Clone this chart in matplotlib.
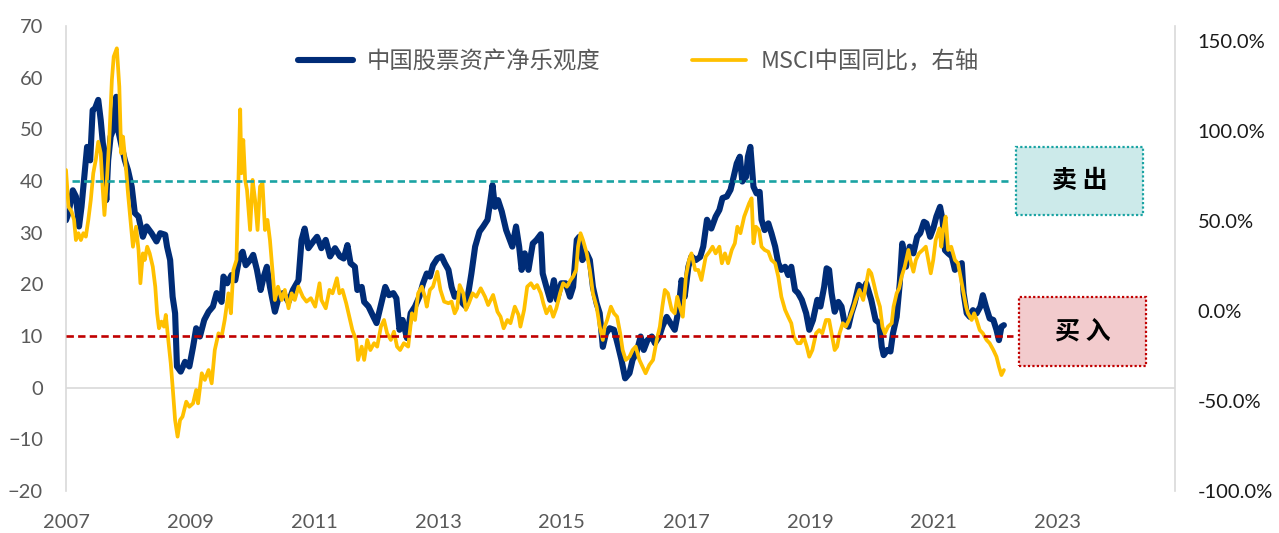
import matplotlib
matplotlib.use('Agg')
import matplotlib.pyplot as plt
from matplotlib.patches import Rectangle
from matplotlib.ticker import FuncFormatter, FixedLocator

# ---------------- data ----------------
nav_years = [2007.00, 2007.04, 2007.11, 2007.16, 2007.21, 2007.25, 2007.29, 2007.34, 2007.39, 2007.43,
             2007.47, 2007.52, 2007.56, 2007.60, 2007.65, 2007.68, 2007.72, 2007.76, 2007.81, 2007.84,
             2007.90, 2007.95, 2008.00, 2008.06, 2008.11, 2008.17, 2008.24, 2008.30, 2008.38, 2008.46,
             2008.52, 2008.60, 2008.63, 2008.68, 2008.72, 2008.76, 2008.79, 2008.85, 2008.92, 2008.99,
             2009.05, 2009.10, 2009.16, 2009.23, 2009.30, 2009.37, 2009.43, 2009.48, 2009.51, 2009.54,
             2009.60, 2009.67, 2009.73, 2009.80, 2009.85, 2009.90, 2009.97, 2010.02, 2010.08, 2010.14,
             2010.19, 2010.24, 2010.29, 2010.37, 2010.42, 2010.50, 2010.59, 2010.66, 2010.75, 2010.80,
             2010.85, 2010.91, 2010.99, 2011.05, 2011.12, 2011.19, 2011.26, 2011.34, 2011.42, 2011.48,
             2011.54, 2011.59, 2011.66, 2011.70, 2011.77, 2011.81, 2011.88, 2011.96, 2012.01, 2012.06,
             2012.15, 2012.21, 2012.28, 2012.33, 2012.38, 2012.43, 2012.50, 2012.56, 2012.63, 2012.70,
             2012.76, 2012.82, 2012.87, 2012.92, 2012.99, 2013.06, 2013.11, 2013.17, 2013.22, 2013.27,
             2013.33, 2013.40, 2013.45, 2013.49, 2013.54, 2013.60, 2013.67, 2013.73, 2013.80, 2013.84,
             2013.88, 2013.92, 2013.97, 2014.03, 2014.10, 2014.16, 2014.20, 2014.26, 2014.31, 2014.35,
             2014.40, 2014.46, 2014.53, 2014.59, 2014.66, 2014.69, 2014.75, 2014.81, 2014.87, 2014.92,
             2014.99, 2015.06, 2015.13, 2015.18, 2015.24, 2015.28, 2015.33, 2015.40, 2015.45, 2015.50,
             2015.56, 2015.61, 2015.66, 2015.71, 2015.77, 2015.84, 2015.91, 2015.96, 2016.02, 2016.09,
             2016.14, 2016.20, 2016.27, 2016.32, 2016.38, 2016.45, 2016.50, 2016.57, 2016.62, 2016.69,
             2016.75, 2016.82, 2016.88, 2016.93, 2016.98, 2017.04, 2017.09, 2017.16, 2017.23, 2017.28,
             2017.34, 2017.41, 2017.48, 2017.54, 2017.59, 2017.66, 2017.72, 2017.77, 2017.82, 2017.87,
             2017.91, 2017.97, 2018.00, 2018.04, 2018.09, 2018.14, 2018.19, 2018.22, 2018.27, 2018.33,
             2018.38, 2018.44, 2018.49, 2018.54, 2018.60, 2018.65, 2018.70, 2018.76, 2018.81, 2018.87,
             2018.94, 2018.99, 2019.05, 2019.12, 2019.17, 2019.23, 2019.27, 2019.31, 2019.35, 2019.40,
             2019.46, 2019.51, 2019.56, 2019.62, 2019.67, 2019.72, 2019.79, 2019.86, 2019.91, 2019.99,
             2020.06, 2020.12, 2020.16, 2020.19, 2020.25, 2020.30, 2020.34, 2020.40, 2020.45, 2020.49,
             2020.55, 2020.61, 2020.67, 2020.73, 2020.78, 2020.84, 2020.88, 2020.94, 2020.99, 2021.04,
             2021.10, 2021.14, 2021.18, 2021.23, 2021.29, 2021.34, 2021.39, 2021.45, 2021.48, 2021.53,
             2021.58, 2021.63, 2021.69, 2021.75, 2021.79, 2021.84, 2021.90, 2021.96, 2022.01, 2022.05,
             2022.09, 2022.13]
nav_vals = [32.4, 33.8, 38.2, 37.0, 31.2, 35.0, 40.2, 46.6, 44.0, 53.7,
            54.1, 55.7, 51.8, 46.6, 36.3, 44.0, 48.6, 49.9, 56.3, 49.9,
            46.6, 44.0, 42.1, 38.9, 33.8, 33.1, 29.2, 31.2, 29.9, 28.3,
            29.9, 29.6, 27.3, 24.7, 17.6, 14.4, 4.1, 3.1, 5.0, 4.1,
            7.9, 11.5, 9.9, 13.1, 14.7, 15.7, 18.3, 17.3, 16.6, 21.5,
            20.2, 21.8, 20.8, 25.4, 26.3, 23.7, 24.7, 25.7, 22.8, 18.9,
            21.5, 23.4, 19.5, 14.7, 17.0, 18.3, 16.6, 18.9, 20.8, 28.6,
            30.8, 27.0, 28.3, 29.2, 27.0, 28.6, 25.4, 27.0, 25.4, 25.0,
            27.6, 24.1, 23.4, 18.9, 19.5, 16.6, 15.7, 13.7, 12.5, 15.0,
            19.5, 17.9, 18.3, 17.3, 11.2, 13.1, 9.6, 14.4, 15.7, 17.6,
            20.2, 22.1, 21.5, 23.7, 25.0, 25.4, 24.1, 22.8, 19.5, 17.6,
            18.3, 16.3, 15.7, 18.3, 22.1, 27.3, 30.2, 31.2, 32.5, 35.7,
            39.2, 35.0, 36.3, 34.1, 30.5, 28.6, 27.3, 31.2, 27.3, 22.8,
            26.0, 22.8, 27.9, 28.6, 29.7, 22.1, 19.5, 17.0, 20.8, 17.0,
            20.2, 20.2, 17.6, 19.5, 28.6, 29.2, 24.7, 26.0, 24.7, 19.5,
            16.3, 14.4, 7.9, 10.5, 11.5, 11.2, 7.9, 5.4, 1.8, 2.8,
            5.4, 6.7, 9.9, 7.3, 9.2, 9.9, 8.6, 9.9, 11.8, 13.7,
            12.5, 11.2, 15.0, 20.8, 17.6, 23.4, 25.4, 24.7, 25.3, 27.3,
            32.5, 30.8, 33.1, 34.4, 36.7, 37.0, 38.3, 40.8, 43.4, 44.7,
            39.9, 40.8, 44.7, 46.6, 38.9, 37.6, 37.9, 32.5, 30.5, 31.8,
            29.9, 27.3, 24.1, 22.8, 23.4, 21.8, 23.4, 18.9, 18.3, 17.0,
            14.4, 11.2, 13.1, 17.0, 15.7, 19.5, 23.1, 22.8, 18.3, 14.7,
            16.6, 15.7, 12.5, 11.8, 14.4, 16.3, 19.9, 18.9, 20.2, 17.0,
            13.1, 12.5, 7.9, 6.3, 7.3, 7.0, 10.5, 13.7, 20.2, 27.9,
            23.4, 27.3, 26.0, 29.2, 29.9, 32.1, 31.8, 29.2, 30.8, 33.1,
            35.0, 32.5, 26.6, 26.0, 25.4, 22.8, 23.4, 24.1, 18.3, 14.4,
            13.7, 15.0, 14.4, 15.7, 17.9, 15.7, 13.4, 13.1, 11.2, 9.2,
            11.8, 12.1]

msci_years = [2007.00, 2007.04, 2007.09, 2007.13, 2007.16, 2007.20, 2007.24, 2007.28, 2007.32, 2007.36,
              2007.40, 2007.44, 2007.48, 2007.52, 2007.56, 2007.59, 2007.62, 2007.66, 2007.70, 2007.74,
              2007.77, 2007.82, 2007.86, 2007.89, 2007.92, 2007.97, 2008.00, 2008.04, 2008.08, 2008.13,
              2008.17, 2008.20, 2008.24, 2008.27, 2008.31, 2008.35, 2008.40, 2008.44, 2008.47, 2008.50,
              2008.54, 2008.58, 2008.61, 2008.65, 2008.69, 2008.72, 2008.76, 2008.80, 2008.84, 2008.88,
              2008.94, 2008.99, 2009.05, 2009.10, 2009.13, 2009.19, 2009.24, 2009.30, 2009.35, 2009.40,
              2009.46, 2009.51, 2009.56, 2009.62, 2009.66, 2009.70, 2009.75, 2009.78, 2009.81, 2009.83,
              2009.86, 2009.89, 2009.92, 2009.97, 2010.01, 2010.05, 2010.09, 2010.13, 2010.17, 2010.21,
              2010.25, 2010.29, 2010.33, 2010.37, 2010.42, 2010.48, 2010.53, 2010.59, 2010.64, 2010.69,
              2010.75, 2010.82, 2010.88, 2010.95, 2011.02, 2011.09, 2011.12, 2011.19, 2011.25, 2011.30,
              2011.37, 2011.41, 2011.46, 2011.52, 2011.57, 2011.62, 2011.68, 2011.71, 2011.77, 2011.81,
              2011.86, 2011.91, 2011.97, 2012.02, 2012.08, 2012.13, 2012.18, 2012.24, 2012.29, 2012.34,
              2012.39, 2012.45, 2012.52, 2012.58, 2012.63, 2012.68, 2012.74, 2012.79, 2012.82, 2012.87,
              2012.92, 2012.99, 2013.04, 2013.10, 2013.17, 2013.22, 2013.27, 2013.31, 2013.35, 2013.41,
              2013.45, 2013.50, 2013.56, 2013.62, 2013.69, 2013.76, 2013.81, 2013.89, 2013.96, 2014.01,
              2014.06, 2014.12, 2014.17, 2014.24, 2014.30, 2014.33, 2014.39, 2014.44, 2014.50, 2014.55,
              2014.60, 2014.66, 2014.70, 2014.75, 2014.81, 2014.86, 2014.91, 2014.97, 2015.02, 2015.08,
              2015.14, 2015.18, 2015.23, 2015.26, 2015.30, 2015.34, 2015.40, 2015.45, 2015.50, 2015.56,
              2015.61, 2015.66, 2015.69, 2015.73, 2015.79, 2015.84, 2015.89, 2015.94, 2015.98, 2016.03,
              2016.09, 2016.14, 2016.19, 2016.25, 2016.30, 2016.35, 2016.41, 2016.47, 2016.53, 2016.58,
              2016.62, 2016.66, 2016.71, 2016.77, 2016.82, 2016.86, 2016.90, 2016.95, 2017.00, 2017.05,
              2017.09, 2017.15, 2017.20, 2017.25, 2017.32, 2017.38, 2017.43, 2017.48, 2017.54, 2017.58,
              2017.63, 2017.68, 2017.74, 2017.79, 2017.83, 2017.88, 2017.94, 2017.98, 2018.02, 2018.06,
              2018.09, 2018.13, 2018.18, 2018.22, 2018.27, 2018.33, 2018.38, 2018.44, 2018.49, 2018.54,
              2018.60, 2018.65, 2018.70, 2018.74, 2018.80, 2018.85, 2018.90, 2018.95, 2018.99, 2019.04,
              2019.10, 2019.15, 2019.20, 2019.26, 2019.31, 2019.37, 2019.40, 2019.44, 2019.48, 2019.53,
              2019.58, 2019.63, 2019.69, 2019.74, 2019.80, 2019.86, 2019.91, 2019.95, 2019.99, 2020.03,
              2020.08, 2020.13, 2020.17, 2020.21, 2020.26, 2020.32, 2020.35, 2020.40, 2020.44, 2020.48,
              2020.53, 2020.59, 2020.62, 2020.67, 2020.71, 2020.76, 2020.82, 2020.87, 2020.91, 2020.95,
              2020.99, 2021.03, 2021.09, 2021.12, 2021.15, 2021.19, 2021.23, 2021.28, 2021.34, 2021.39,
              2021.45, 2021.48, 2021.52, 2021.55, 2021.61, 2021.65, 2021.69, 2021.74, 2021.79, 2021.85,
              2021.90, 2021.96, 2022.01, 2022.05, 2022.09, 2022.13]
msci_vals = [78.3, 57.9, 55.2, 50.6, 39.4, 43.2, 39.4, 43.2, 41.3, 50.6,
             61.7, 76.5, 83.9, 94.0, 87.6, 69.1, 53.3, 72.8, 96.8, 128.3,
             141.3, 145.9, 124.6, 87.6, 96.8, 78.3, 65.4, 50.6, 35.7, 46.8,
             33.9, 15.4, 32.0, 28.3, 35.7, 32.0, 24.6, 13.5, -1.3, -9.6,
             -5.9, -8.7, -2.2, -16.1, -29.1, -42.1, -60.6, -69.8, -60.6, -58.7,
             -50.4, -53.2, -51.3, -43.9, -51.3, -34.6, -38.3, -32.8, -40.2, -21.7,
             -12.4, -14.3, -5.0, 9.8, -1.3, 22.8, 28.3, 69.1, 112.0, 76.5,
             95.0, 72.8, 67.2, 45.0, 72.8, 61.7, 45.0, 69.1, 70.9, 45.0,
             50.6, 39.4, 22.8, 6.1, 13.5, 6.1, 11.7, 1.5, 9.8, 6.1,
             13.5, 7.9, 5.2, 7.1, 2.4, 15.4, 6.1, 1.5, 11.7, 9.8,
             18.2, 9.8, 11.7, 4.3, -3.2, -10.6, -16.1, -27.2, -19.8, -27.2,
             -16.1, -21.7, -17.9, -19.8, -8.7, -5.0, -12.4, -16.1, -11.5, -19.8,
             -21.7, -17.9, -19.8, -1.3, -5.0, 9.8, 13.5, 7.9, 2.4, 11.7,
             13.5, 21.8, 11.7, 5.2, 4.3, 5.2, -1.3, 1.5, 14.4, 9.8,
             0.6, 4.3, 9.8, 7.9, 12.6, 7.9, 3.3, 8.9, -0.4, -3.2,
             -9.6, -5.0, -6.8, 2.4, -2.2, -8.7, 0.6, 13.5, 15.4, 12.6,
             14.4, 9.8, 4.3, -1.3, 2.4, -3.2, 1.5, 9.8, 15.4, 13.5,
             17.2, 19.1, 22.8, 35.7, 43.2, 39.4, 32.0, 22.8, 9.8, 2.4,
             -8.7, -16.1, -8.7, -5.0, 2.4, -1.3, -3.2, -12.4, -21.7, -27.2,
             -25.4, -21.7, -19.8, -27.2, -30.9, -34.6, -30.0, -27.2, -16.1, -8.7,
             2.4, 11.7, 9.8, 0.6, -1.3, 7.9, 2.4, -3.2, 19.1, 28.3,
             32.0, 22.8, 22.8, 17.2, 30.2, 32.9, 35.7, 32.0, 35.7, 26.5,
             32.0, 26.5, 33.9, 37.6, 46.8, 43.2, 52.4, 56.1, 59.8, 62.6,
             37.6, 46.8, 45.0, 35.7, 33.9, 32.9, 28.3, 26.5, 19.1, 7.9,
             0.6, -3.2, -6.8, -14.3, -17.9, -17.9, -14.3, -19.8, -25.4, -21.7,
             -12.4, -10.6, -12.4, -5.0, -5.0, -16.1, -21.7, -19.8, -12.4, -6.8,
             -8.7, -5.0, 0.6, 6.1, 11.7, 6.1, 15.4, 22.8, 20.9, 15.4,
             7.9, 2.4, -8.7, -12.4, -8.7, -6.8, 2.4, 9.8, 12.6, 19.1,
             24.6, 33.9, 28.3, 21.8, 28.3, 32.0, 33.9, 35.7, 28.3, 20.9,
             28.3, 39.4, 45.9, 35.7, 45.0, 52.4, 33.9, 35.7, 28.3, 26.5,
             15.4, 9.8, 2.4, -1.3, -5.0, -1.3, -5.0, -10.6, -12.4, -16.1,
             -17.9, -21.7, -25.4, -30.9, -35.6, -32.8]

sell_level = 40
buy_level = 10
year_ticks = [2007, 2009, 2011, 2013, 2015, 2017, 2019, 2021, 2023]
left_ticks = [-20, -10, 0, 10, 20, 30, 40, 50, 60, 70]
right_ticks = [-100, -50, 0, 50, 100, 150]
series_names = ['中国股票资产净乐观度', 'MSCI中国同比，右轴']
sell_label = '卖 出'
buy_label = '买 入'

# ---------------- styling ----------------
NAVY = '#002C77'
GOLD = '#FFC000'
TEAL = '#1AA3A3'
RED = '#C00000'
GRID = '#D9D9D9'
GREY_TXT = '#595959'
CJK = ['Noto Sans CJK SC', 'DejaVu Sans']
plt.rcParams['font.family'] = ['Lato', 'DejaVu Sans']

W, H = 1279, 533
fig = plt.figure(figsize=(W / 100, H / 100), dpi=100)
ax = fig.add_axes([66 / W, 42 / H, 1109 / W, 465 / H])
ax2 = ax.twinx()

ln1, = ax.plot(nav_years, nav_vals, color=NAVY, lw=4.4,
               solid_joinstyle='round', solid_capstyle='round', label=series_names[0])
ln2, = ax2.plot(msci_years, msci_vals, color=GOLD, lw=2.7,
                solid_joinstyle='round', solid_capstyle='round', label=series_names[1])

# threshold lines (drawn on top of both series)
ax2.plot([2007.1, 2022.19], [sell_level, sell_level], transform=ax.transData,
         color=TEAL, lw=1.9, dashes=(2.8, 1.6), zorder=5)
ax2.plot([2007.0, 2022.27], [buy_level, buy_level], transform=ax.transData,
         color=RED, lw=1.9, dashes=(2.8, 1.6), zorder=5)

# zero line of primary axis
ax.axhline(0, color=GRID, lw=1.2, zorder=0)

ax.set_xlim(2007, 2024.89)
ax.set_ylim(-20, 70)
ax2.set_ylim(-100, 158.3)

ax.xaxis.set_major_locator(FixedLocator(year_ticks))
ax.set_xticklabels([str(y) for y in year_ticks])
ax.yaxis.set_major_locator(FixedLocator(left_ticks))
ax2.yaxis.set_major_locator(FixedLocator(right_ticks))
ax2.yaxis.set_major_formatter(FuncFormatter(lambda v, p: f'{v:.1f}%'))

ax.tick_params(axis='x', length=0, pad=16.5, labelsize=14.5, labelcolor=GREY_TXT)
ax.tick_params(axis='y', length=0, pad=16.5, labelsize=14.5, labelcolor=GREY_TXT)
ax2.tick_params(axis='y', length=0, pad=16.3, labelsize=14.5, labelcolor='#1a1a1a')

for a in (ax, ax2):
    for s in ('top', 'bottom'):
        a.spines[s].set_visible(False)
ax.spines['right'].set_visible(False)
ax2.spines['left'].set_visible(False)
ax.spines['left'].set_color(GRID)
ax.spines['left'].set_linewidth(1.2)
ax2.spines['right'].set_color(GRID)
ax2.spines['right'].set_linewidth(1.2)

# legend
leg = ax2.legend(handles=[ln1, ln2], labels=series_names, ncol=2, frameon=False,
                 loc='center left', bbox_to_anchor=(298 / W, 1 - 61.7 / H),
                 bbox_transform=fig.transFigure, borderpad=0, borderaxespad=0,
                 handlelength=2.35, handletextpad=0.6, columnspacing=3.9,
                 prop={'family': CJK, 'size': 16.8})
for t in leg.get_texts():
    t.set_color(GREY_TXT)

# signal boxes
def box(x0, x1, y0, y1, face, edge, label):
    r = Rectangle((x0, y0), x1 - x0, y1 - y0, transform=ax2.transAxes,
                  facecolor=face, edgecolor=edge, lw=1.6, linestyle=(0, (1, 1)),
                  zorder=6, clip_on=False)
    ax2.add_patch(r)
    ax2.text((x0 + x1) / 2, (y0 + y1) / 2, label, transform=ax2.transAxes,
             ha='center', va='center', fontsize=18, fontweight='bold',
             family=CJK, color='black', zorder=7)

box(0.8566, 0.9711, 0.5935, 0.7404, '#CCEAEA', TEAL, sell_label)
box(0.8593, 0.9738, 0.2695, 0.4172, '#F2CBCD', RED, buy_label)

fig.savefig('out.png', dpi=100)
